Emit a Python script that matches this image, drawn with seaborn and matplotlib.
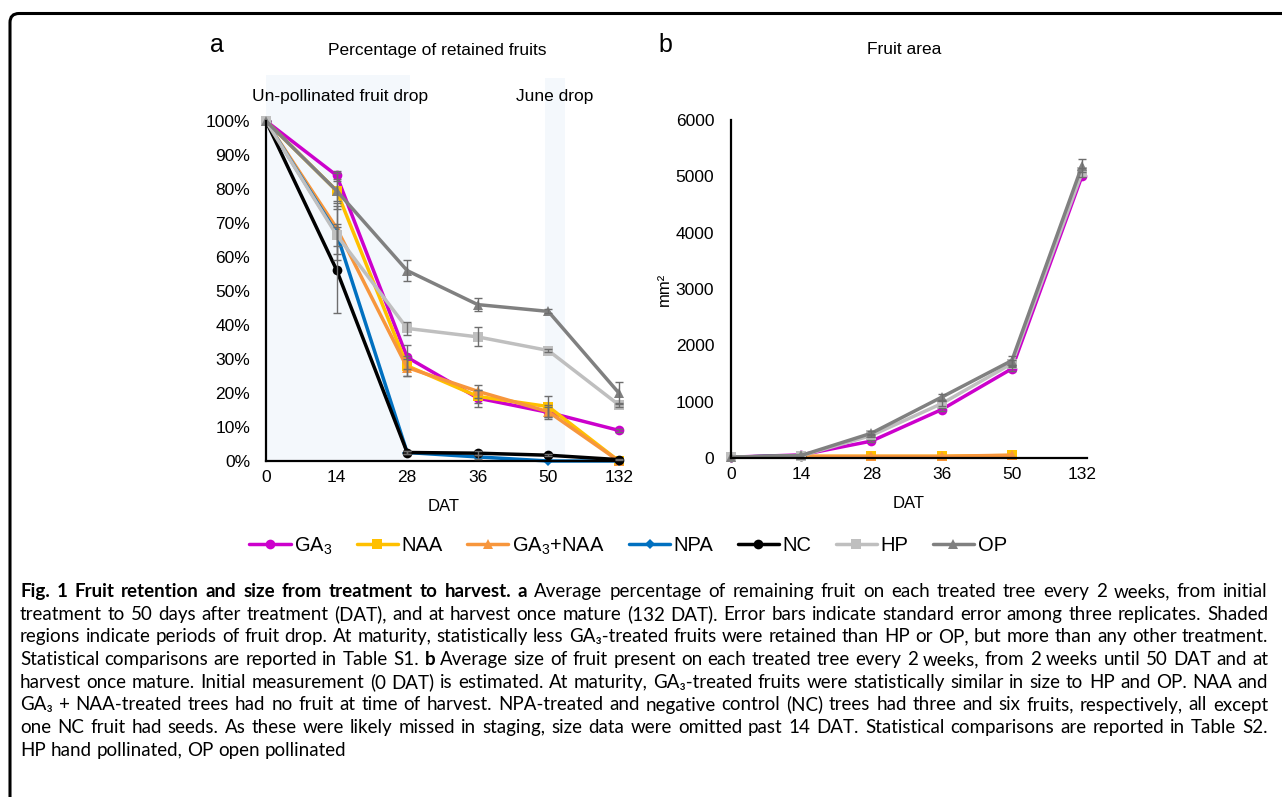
import numpy as np
import pandas as pd
import matplotlib
matplotlib.use("Agg")
import matplotlib.pyplot as plt
import seaborn as sns
from matplotlib.ticker import PercentFormatter, MultipleLocator
from matplotlib.patches import Rectangle, FancyBboxPatch
from matplotlib.transforms import IdentityTransform
from matplotlib import font_manager

# ---------------- data ----------------
days = ['0', '14', '28', '36', '50', '132']
treatments = ['GA3', 'NAA', 'GA3+NAA', 'NPA', 'NC', 'HP', 'OP']
legend_labels = ['GA$_3$', 'NAA', 'GA$_3$+NAA', 'NPA', 'NC', 'HP', 'OP']

# panel a: percentage of retained fruits
ga3_ret = [100, 84, 30.5, 18.5, 14.3, 9]
naa_ret = [100, 79.5, 28, 19, 16, 0]
ga3naa_ret = [100, 68.5, 27.5, 20.5, 14.5, 0]
npa_ret = [100, 67, 2.5, 1.2, 0, 0]
nc_ret = [100, 56.2, 2.5, 2.3, 1.7, 0.4]
hp_ret = [100, 66.5, 39, 36.5, 32.5, 16.5]
op_ret = [100, 79.5, 56, 46, 44, 20]

ga3_ret_se = [0, 1.2, 3.5, 2.5, 1.5, 0.5]
naa_ret_se = [0, 3, 3, 2, 3, 0]
ga3naa_ret_se = [0, 7.5, 2.5, 2, 2, 0]
npa_ret_se = [0, 8, 0.5, 0.5, 0, 0]
nc_ret_se = [0, 12.6, 0.5, 0.5, 0.3, 0.2]
hp_ret_se = [0, 3.3, 1.9, 2.8, 0.5, 0.5]
op_ret_se = [0, 5.3, 3.2, 2, 0.6, 3.2]

# panel b: fruit area (mm2)
nan = np.nan
ga3_area = [15, 55, 300, 860, 1585, 5010]
naa_area = [15, 30, 30, 30, 45, nan]
ga3naa_area = [15, 30, 30, 30, 50, nan]
npa_area = [15, 40, nan, nan, nan, nan]
nc_area = [15, 40, nan, nan, nan, nan]
hp_area = [15, 40, 400, 965, 1675, 5070]
op_area = [15, 45, 440, 1080, 1730, 5190]

ga3_area_se = [0, 0, 20, 30, 40, 0]
naa_area_se = [0, 0, 0, 0, 0, 0]
ga3naa_area_se = [0, 0, 0, 0, 0, 0]
npa_area_se = [0, 0, 0, 0, 0, 0]
nc_area_se = [0, 0, 0, 0, 0, 0]
hp_area_se = [0, 0, 30, 40, 60, 80]
op_area_se = [0, 0, 40, 50, 85, 110]

ret_vals = [ga3_ret, naa_ret, ga3naa_ret, npa_ret, nc_ret, hp_ret, op_ret]
ret_se = [ga3_ret_se, naa_ret_se, ga3naa_ret_se, npa_ret_se, nc_ret_se, hp_ret_se, op_ret_se]
area_vals = [ga3_area, naa_area, ga3naa_area, npa_area, nc_area, hp_area, op_area]
area_se = [ga3_area_se, naa_area_se, ga3naa_area_se, npa_area_se, nc_area_se, hp_area_se, op_area_se]

# ---------------- style ----------------
colors = {'GA3': '#CC00CC', 'NAA': '#FFC000', 'GA3+NAA': '#F7963C', 'NPA': '#0070C0',
          'NC': '#000000', 'HP': '#BFBFBF', 'OP': '#808080'}
markers = {'GA3': 'o', 'NAA': 's', 'GA3+NAA': '^', 'NPA': 'D', 'NC': 'o', 'HP': 's', 'OP': '^'}
msizes = {'GA3': 7, 'NAA': 6.5, 'GA3+NAA': 7.5, 'NPA': 5, 'NC': 7, 'HP': 6.5, 'OP': 7.5}

sns.set_theme(style='white')
plt.rcParams['font.family'] = ['Liberation Sans', 'DejaVu Sans']
plt.rcParams['mathtext.fontset'] = 'custom'
plt.rcParams['mathtext.rm'] = 'Liberation Sans'
plt.rcParams['mathtext.it'] = 'Liberation Sans:italic'
plt.rcParams['text.color'] = 'black'
plt.rcParams['axes.labelcolor'] = 'black'
plt.rcParams['xtick.color'] = 'black'
plt.rcParams['ytick.color'] = 'black'

W, H = 1282, 797
fig = plt.figure(figsize=(W / 100, H / 100), dpi=100)
fig.patch.set_facecolor('white')


def fx(px):
    return px / W


def fy(py):
    return 1 - py / H


def make_long(vals):
    rows = []
    for trt, series in zip(treatments, vals):
        for i, v in enumerate(series):
            rows.append({'trt': trt, 'pos': i, 'day': days[i], 'value': v})
    return pd.DataFrame(rows).dropna()


def draw_panel(ax, vals, ses):
    df = make_long(vals)
    n0 = len(ax.lines)
    sns.lineplot(data=df, x='pos', y='value', hue='trt', hue_order=treatments,
                 style='trt', style_order=treatments, markers=markers, dashes=False,
                 palette=colors, linewidth=2.5, markersize=7, markeredgewidth=0,
                 errorbar=None, sort=False, legend=False, ax=ax)
    lines = ax.lines[n0:]
    for ln, trt in zip(lines, treatments):
        ln.set_clip_on(False)
        ln.set_markersize(msizes[trt])
        ln.set_zorder(2)
    for trt, series, se in zip(treatments, vals, ses):
        x = [i for i in range(len(days)) if se[i] > 0 and not np.isnan(series[i])]
        y = [series[i] for i in x]
        e = [se[i] for i in x]
        if x:
            ax.errorbar(x, y, yerr=e, fmt='none', ecolor='#6E6E6E', elinewidth=1.0,
                        capsize=3.2, capthick=1.0, zorder=3, clip_on=False)
    ax.set_xticks(range(len(days)))
    ax.set_xticklabels(days)
    for s in ['top', 'right']:
        ax.spines[s].set_visible(False)
    for s in ['left', 'bottom']:
        ax.spines[s].set_color('black')
        ax.spines[s].set_linewidth(1.6)
    ax.tick_params(axis='both', length=0, labelsize=12.5)
    ax.tick_params(axis='x', pad=6.3)
    ax.tick_params(axis='y', pad=11.5)
    ax.set_xlabel('DAT', fontsize=12, labelpad=10.5)
    ax.set_facecolor('none')
    return lines


# ---------------- panel a ----------------
ax_a = fig.add_axes([fx(266), fy(461), fx(355), 340 / H])
lines_a = draw_panel(ax_a, ret_vals, ret_se)
ax_a.set_xlim(0, 5.03)
ax_a.set_ylim(0, 100)
ax_a.yaxis.set_major_locator(MultipleLocator(10))
ax_a.yaxis.set_major_formatter(PercentFormatter(xmax=100, decimals=0))
ax_a.set_ylabel('')
shade = '#F4F8FC'
ax_a.add_patch(Rectangle((0, 0), 2.04, 113.5, facecolor=shade, edgecolor='none',
                         zorder=0, clip_on=False))
ax_a.add_patch(Rectangle((3.95, 0), 0.29, 112.6, facecolor=shade, edgecolor='none',
                         zorder=0, clip_on=False))

# ---------------- panel b ----------------
ax_b = fig.add_axes([fx(731), fy(458), fx(356), 338 / H])
lines_b = draw_panel(ax_b, area_vals, area_se)
ax_b.set_xlim(0, 5.07)
ax_b.set_ylim(0, 6000)
ax_b.yaxis.set_major_locator(MultipleLocator(1000))
ax_b.tick_params(axis='y', pad=12)
ax_b.set_ylabel('mm²', fontsize=12, labelpad=2.5)

# ---------------- titles / annotations ----------------
fig.text(fx(210), fy(45), 'a', fontsize=18, ha='left', va='center')
fig.text(fx(437), fy(50), 'Percentage of retained fruits', fontsize=12.5, ha='center', va='center')
fig.text(fx(658), fy(45), 'b', fontsize=18, ha='left', va='center')
fig.text(fx(904), fy(50), 'Fruit area', fontsize=12.5, ha='center', va='center')
fig.text(fx(340), fy(96), 'Un-pollinated fruit drop', fontsize=12.5, ha='center', va='center')
fig.text(fx(555), fy(96), 'June drop', fontsize=12.5, ha='center', va='center')

# ---------------- legend ----------------
fig.legend(handles=lines_a, labels=legend_labels, loc='center',
           bbox_to_anchor=(fx(628), fy(546)), ncol=7, frameon=False, fontsize=14.5,
           handlelength=2.05, handletextpad=0.18, columnspacing=1.2, borderaxespad=0,
           borderpad=0)

# ---------------- border ----------------
border = FancyBboxPatch((10, -40), 1400, H - 13.5 + 40,
                        boxstyle='round,pad=0,rounding_size=9',
                        facecolor='none', edgecolor='black', linewidth=2.2,
                        transform=IdentityTransform())
fig.add_artist(border)

# ---------------- caption ----------------
avail = {f.name for f in font_manager.fontManager.ttflist}
cap_font = next((f for f in ['Lato', 'Open Sans', 'Noto Sans', 'Liberation Sans'] if f in avail),
                'DejaVu Sans')
cap_family = [cap_font, 'DejaVu Sans']

caption = [
    [("Fig. 1 Fruit retention and size from treatment to harvest. a", 'bold'),
     ("Average percentage of remaining fruit on each treated tree every 2 weeks, from initial", 'normal')],
    [("treatment to 50 days after treatment (DAT), and at harvest once mature (132 DAT). Error bars indicate standard error among three replicates. Shaded", 'normal')],
    [("regions indicate periods of fruit drop. At maturity, statistically less GA₃-treated fruits were retained than HP or OP, but more than any other treatment.", 'normal')],
    [("Statistical comparisons are reported in Table S1.", 'normal'), ("b", 'bold'),
     ("Average size of fruit present on each treated tree every 2 weeks, from 2 weeks until 50 DAT and at", 'normal')],
    [("harvest once mature. Initial measurement (0 DAT) is estimated. At maturity, GA₃-treated fruits were statistically similar in size to HP and OP. NAA and", 'normal')],
    [("GA₃ + NAA-treated trees had no fruit at time of harvest. NPA-treated and negative control (NC) trees had three and six fruits, respectively, all except", 'normal')],
    [("one NC fruit had seeds. As these were likely missed in staging, size data were omitted past 14 DAT. Statistical comparisons are reported in Table S2.", 'normal')],
    [("HP hand pollinated, OP open pollinated", 'normal')],
]

renderer = fig.canvas.get_renderer()


def text_w(s, weight, size):
    t = fig.text(0, 0, s, fontsize=size, fontweight=weight, fontfamily=cap_family)
    w = t.get_window_extent(renderer=renderer).width
    t.remove()
    return w


cap_left, cap_right = 20, 1268
avail_w = cap_right - cap_left
words_per_line = []
for line in caption:
    words = []
    for seg, wt in line:
        for w in seg.split(' '):
            words.append((w, wt))
    words_per_line.append(words)

size = 12.0
for _ in range(4):
    sp = text_w('x x', 'normal', size) - text_w('xx', 'normal', size)
    maxw = 0
    for words in words_per_line[:-1]:
        tot = sum(text_w(w, wt, size) for w, wt in words) + sp * (len(words) - 1)
        maxw = max(maxw, tot)
    size = min(size * (avail_w - 2) / maxw, 13.5)

sp = text_w('x x', 'normal', size) - text_w('xx', 'normal', size)
for li, words in enumerate(words_per_line):
    baseline = 597 + li * 22.7
    widths = [text_w(w, wt, size) for w, wt in words]
    if li < len(words_per_line) - 1 and len(words) > 1:
        gap = (avail_w - sum(widths)) / (len(words) - 1)
    else:
        gap = sp
    x = cap_left
    for (w, wt), ww in zip(words, widths):
        fig.text(fx(x), fy(baseline), w, fontsize=size, fontweight=wt,
                 fontfamily=cap_family, ha='left', va='baseline')
        x += ww + gap

fig.savefig('out.png', dpi=100, facecolor='white')
